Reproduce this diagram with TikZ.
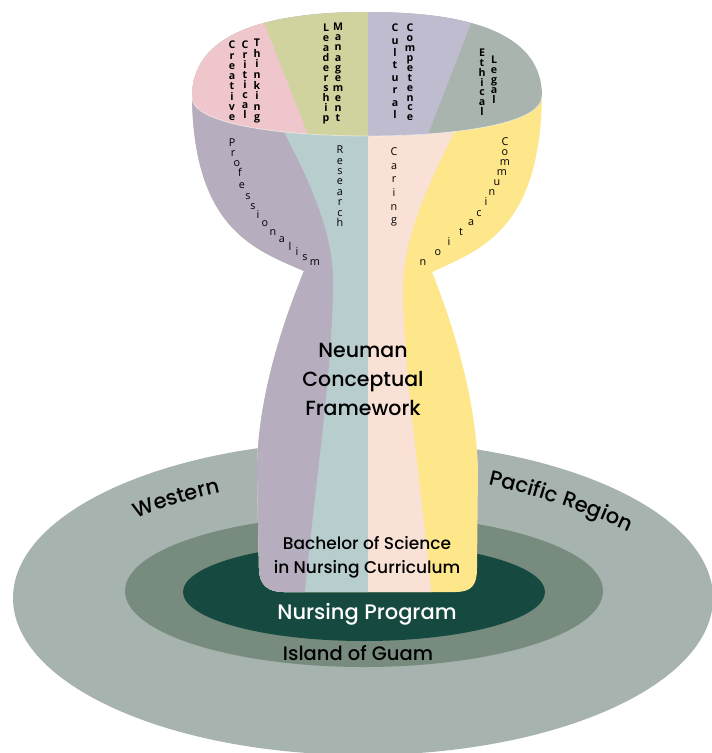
\documentclass[tikz,border=0pt]{standalone}
\usepackage{fontspec}
\setmainfont{Poppins}[BoldFont={Poppins Medium}]
\newfontfamily\letterfont{Open Sans}
\usetikzlibrary{decorations.text}

\definecolor{regiongrey}{HTML}{A7B3AE}
\definecolor{islandgreen}{HTML}{788B7F}
\definecolor{programgreen}{HTML}{164A40}
\definecolor{profpurple}{HTML}{B6AEBF}
\definecolor{researchblue}{HTML}{B7CDCE}
\definecolor{caringpeach}{HTML}{F9E1D5}
\definecolor{commyellow}{HTML}{FEE68A}
\definecolor{creativepink}{HTML}{EEC6CB}
\definecolor{leaderolive}{HTML}{D1D39E}
\definecolor{culturallav}{HTML}{BEBCCE}
\definecolor{ethicalgrey}{HTML}{A8B4AD}

\newcommand\regionfont{\fontsize{21}{23}\selectfont\bfseries}
\newcommand\vword[5]{%
  \foreach \c [count=\i from 0] in {#5}
    \node[vletter] (#1\i) at (#2,{#3+\i*#4}) {\c};}

\tikzset{
  vletter/.style={inner sep=0pt, text height=7.5pt, text depth=0pt,
    font=\letterfont\fontsize{10.6}{11}\selectfont\bfseries},
  bletter/.style={inner sep=0pt, text height=7.5pt, text depth=0pt,
    font=\letterfont\fontsize{10.8}{12}\selectfont},
  mainlabel/.style={align=center, inner sep=0pt, font=\bfseries},
}

\begin{document}
\begin{tikzpicture}[x=1pt,y=-1pt]
  \useasboundingbox (0,0) rectangle (712,753);
  \fill[regiongrey] (363,598) ellipse [x radius=350, y radius=157];
  \fill[islandgreen] (364,591) ellipse [x radius=239, y radius=76];
  \fill[programgreen] (364,592) ellipse [x radius=181, y radius=49];

  \begin{scope}
    \clip (192,97) .. controls (194,230) and (256,250) .. (304,271)
      .. controls (280,330) and (258,400) .. (257,470)
      -- (259,568) .. controls (259,585) and (268,592) .. (284,592)
      -- (455,592) .. controls (472,592) and (477,585) .. (477,568)
      -- (478,470) .. controls (476,400) and (455,330) .. (432,272)
      .. controls (480,250) and (540,230) .. (542,96) -- cycle;
    \fill[commyellow] (150,80) rectangle (560,600);
    \fill[caringpeach] (150,80) -- (458,125)
      .. controls (425,190) and (403,240) .. (403,290)
      .. controls (404,380) and (420,470) .. (432,600) -- (150,600) -- cycle;
    \fill[researchblue] (150,80) rectangle (368,600);
    \fill[profpurple] (150,80) -- (280,125)
      .. controls (315,190) and (335,240) .. (333,290)
      .. controls (331,380) and (318,460) .. (304,600) -- (150,600) -- cycle;
  \end{scope}

  \begin{scope}
    \clip (192,97) .. controls (192,35) and (262,12) .. (368,12)
      .. controls (474,12) and (542,35) .. (542,96)
      .. controls (542,125) and (450,136) .. (368,136)
      .. controls (285,136) and (192,125) .. (192,97) -- cycle;
    \fill[ethicalgrey] (180,0) rectangle (560,150);
    \fill[culturallav] (180,0) -- (480,0) -- (422,150) -- (180,150) -- cycle;
    \fill[leaderolive] (180,0) rectangle (368,150);
    \fill[creativepink] (180,0) -- (255,0) -- (314,150) -- (180,150) -- cycle;
  \end{scope}
  \draw[white, opacity=.5, line width=.8pt] (542,96)
    .. controls (542,125) and (450,136) .. (368,136)
    .. controls (285,136) and (192,125) .. (192,97);

  \vword{crea}{232}{45}{10.3}{C,r,e,a,t,i,v,e}
  \vword{crit}{245}{45}{10}{C,r,i,t,i,c,a,l}
  \vword{think}{257}{43}{10.6}{T,h,i,n,k,i,n,g}
  \vword{lead}{326}{28}{10}{L,e,a,d,e,r,s,h,i,p}
  \vword{manage}{338}{27}{10.1}{M,a,n,a,g,e,m,e,n,t}
  \vword{cult}{395}{28}{12.4}{C,u,l,t,u,r,a,l}
  \vword{comp}{410}{28}{9.9}{C,o,m,p,e,t,e,n,c,e}
  \vword{eth}{482}{53}{9.8}{E,t,h,i,c,a,l}
  \vword{legal}{494}{60}{10}{L,e,g,a,l}

  \foreach \c/\px/\py [count=\i] in {P/232/143, r/233/153, o/237/163,
      f/240/173, e/242/185, s/248/196, s/253/206, i/258/215, o/265/223,
      n/273/232, a/282/239, l/290/247, i/297/252, s/305/257, m/315/262}
    \node[bletter] (prof\i) at (\px,\py) {\c};
  \foreach \c [count=\i from 0] in {R,e,s,e,a,r,c,h}
    \node[bletter] (res\i) at (340,{150+\i*10.4}) {\c};
  \foreach \c [count=\i from 0] in {C,a,r,i,n,g}
    \node[bletter] (car\i) at (394,{152+\i*13.6}) {\c};
  \foreach \c/\px/\py [count=\i] in {C/505/142, o/505/152, m/505/162,
      m/502/172, u/497/182, n/492/192, i/486/202, c/479/213, a/471/222,
      t/461/232, i/449/242, o/438/252, n/423/262}
    \node[bletter] (comm\i) at (\px,\py) {\c};

  \node[mainlabel, font=\fontsize{20.5}{29}\selectfont\bfseries] (neuman)
    at (363,379) {Neuman\\Conceptual\\Framework};
  \node[mainlabel, font=\fontsize{17}{24}\selectfont\bfseries] (bsn)
    at (367,557) {Bachelor of Science\\in Nursing Curriculum};
  \node[mainlabel, white, font=\fontsize{21}{24}\selectfont\bfseries] (program)
    at (367,614) {Nursing Program};
  \node[mainlabel, font=\fontsize{19.5}{22}\selectfont\bfseries] (guam)
    at (358,653) {Island of Guam};

  \path[decorate, decoration={text along path, text align=center,
      text={|\regionfont|Western}}]
    (110,532) .. controls (150,510) and (200,495) .. (250,487);
  \path[decorate, decoration={text along path, text align=center,
      text={|\regionfont|Pacific Region}}]
    (460,478) .. controls (520,490) and (590,510) .. (655,545);
\end{tikzpicture}
\end{document}
